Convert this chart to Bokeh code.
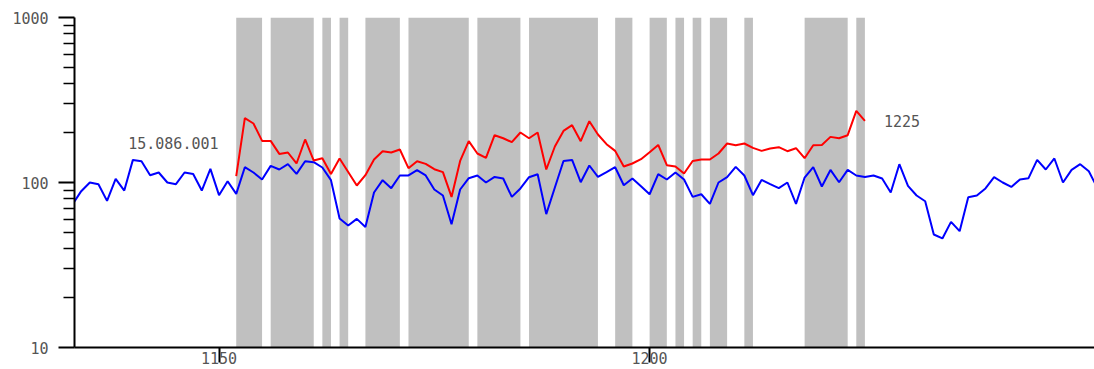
from bokeh.plotting import figure
from bokeh.models import Range1d, FixedTicker, NumeralTickFormatter
from bokeh.embed import file_html
from bokeh.resources import INLINE
from bokeh.core.properties import value

# ---------------- data ----------------
blue_years = list(range(1133, 1253))
blue_values = [
    73.9, 88.6, 100, 97.7, 77.4, 105.1, 89.4, 137.1, 134.6, 110.7,      # 1133-1142
    115, 100, 97.7, 115, 112.7, 89.4, 120.9, 83.8, 101.8, 85.3,          # 1143-1152
    123.8, 115, 104.3, 126.1, 119.9, 129.1, 112.7, 134.6, 132.8, 123.3,  # 1153-1162
    103.3, 60.5, 54.9, 60.2, 53.8, 87.0, 103.3, 92.4, 110.3, 110.3,      # 1163-1172
    118.7, 110.3, 90.7, 83.4, 55.9, 90.7, 106.2, 110.3, 100, 108.1,      # 1173-1182
    105.7, 81.8, 92, 107.7, 112.3, 64.3, 93.3, 135.1, 137.1, 100.4,      # 1183-1192
    126.8, 108.1, 115.5, 123.8, 96.3, 105.7, 95, 84.9, 112.3, 104.3,     # 1193-1202
    115, 104.3, 81.8, 84.9, 74.2, 100, 107.7, 124.3, 110.3, 83.8,        # 1203-1212
    103.7, 97.7, 92.4, 100, 74.2, 107.2, 123.8, 94.6, 119.2, 100.4,      # 1213-1222
    119.2, 110.3, 108.1, 110.3, 105.7, 87.0, 129.1, 95.4, 83.4, 77.0,    # 1223-1232
    48.4, 45.8, 57.7, 50.7, 81.5, 83.4, 92, 107.7, 100, 94,              # 1233-1242
    104.3, 106.2, 137.1, 119.9, 139.8, 100, 119.2, 129.1, 117.1, 92.4,   # 1243-1252
]

red_years = list(range(1152, 1226))
red_values = [
    109.2, 245.3, 227.8, 178.7, 178.7, 149.0, 152, 130.4, 182.3, 135.9,  # 1152-1161
    140.4, 112.7, 139.8, 115.9, 95.9, 110.7, 137.8, 154.8, 152, 158.5,   # 1162-1171
    122.1, 134.6, 129.7, 120.4, 115.5, 81.8, 135.1, 178, 149.9, 141,     # 1172-1181
    193.5, 185.5, 175.5, 200.9, 185.5, 200.9, 119.9, 165.3, 205.4, 222.5,# 1182-1191
    178, 235.3, 195.4, 170.7, 155.5, 125, 130.4, 138.4, 152.6, 169,      # 1192-1201
    127.3, 125, 113.4, 135.1, 137.8, 137.8, 149.9, 172.3, 168.3, 172.3,  # 1202-1211
    162.1, 155.5, 160.7, 163.7, 154.8, 161.4, 140.4, 168.3, 169, 189,    # 1212-1221
    185.5, 193.5, 271.6, 236.3,                                          # 1222-1225
]

band_starts = [1152, 1156, 1162, 1164, 1167, 1172, 1180, 1186, 1196, 1200, 1203, 1205, 1207, 1211, 1218, 1224]
band_ends   = [1155, 1161, 1163, 1165, 1171, 1179, 1185, 1194, 1198, 1202, 1204, 1206, 1209, 1212, 1223, 1225]

x_ticks = [1150, 1200]
y_ticks = [10, 100, 1000]
y_minor_ticks = [20, 30, 40, 50, 60, 70, 80, 90, 200, 300, 400, 500, 600, 700, 800, 900]

note_text = "15.086.001"
end_text = str(red_years[-1])

# ---------------- figure ----------------
FONT = "DejaVu Sans Mono"
TXT = "#555555"

p = figure(width=1094, height=369,
           x_range=Range1d(1133.22, 1251.66), y_range=Range1d(10, 1000),
           y_axis_type="log", output_backend="svg", toolbar_location=None,
           min_border_left=74, min_border_right=0, min_border_top=17, min_border_bottom=22)
p.outline_line_color = None
p.grid.visible = False
p.background_fill_color = "white"
p.border_fill_color = "white"

p.quad(left=band_starts, right=band_ends, bottom=[10] * len(band_starts), top=[1000] * len(band_starts),
       fill_color="#c0c0c0", line_color=None)

p.line(blue_years, blue_values, line_color="#0000ff", line_width=2)
p.line(red_years, red_values, line_color="#ff0000", line_width=2)

p.text(x=[1144.7], y=[173], text=[note_text], text_font=value(FONT), text_font_size="15px",
       text_color=TXT, text_align="center", text_baseline="middle")
p.text(x=[red_years[-1] + 4.3], y=[red_values[-1]], text=[end_text], text_font=value(FONT),
       text_font_size="15px", text_color=TXT, text_align="center", text_baseline="middle")

for ax in (p.xaxis[0], p.yaxis[0]):
    ax.axis_line_color = "black"
    ax.axis_line_width = 2
    ax.major_tick_line_color = "black"
    ax.major_tick_line_width = 2
    ax.major_tick_in = 0
    ax.minor_tick_in = 0
    ax.major_label_text_font = FONT
    ax.major_label_text_font_size = "15px"
    ax.major_label_text_color = TXT

xa = p.xaxis[0]
xa.ticker = FixedTicker(ticks=x_ticks)
xa.major_tick_out = 15
xa.minor_tick_line_color = None
xa.major_label_standoff = -11
xa.formatter = NumeralTickFormatter(format="0")

ya = p.yaxis[0]
ya.ticker = FixedTicker(ticks=y_ticks, minor_ticks=y_minor_ticks)
ya.formatter = NumeralTickFormatter(format="0")
ya.major_tick_out = 16
ya.minor_tick_out = 11
ya.minor_tick_line_color = "black"
ya.minor_tick_line_width = 1.5
ya.major_label_standoff = 10

open("out.html", "w").write(file_html(p, INLINE))
